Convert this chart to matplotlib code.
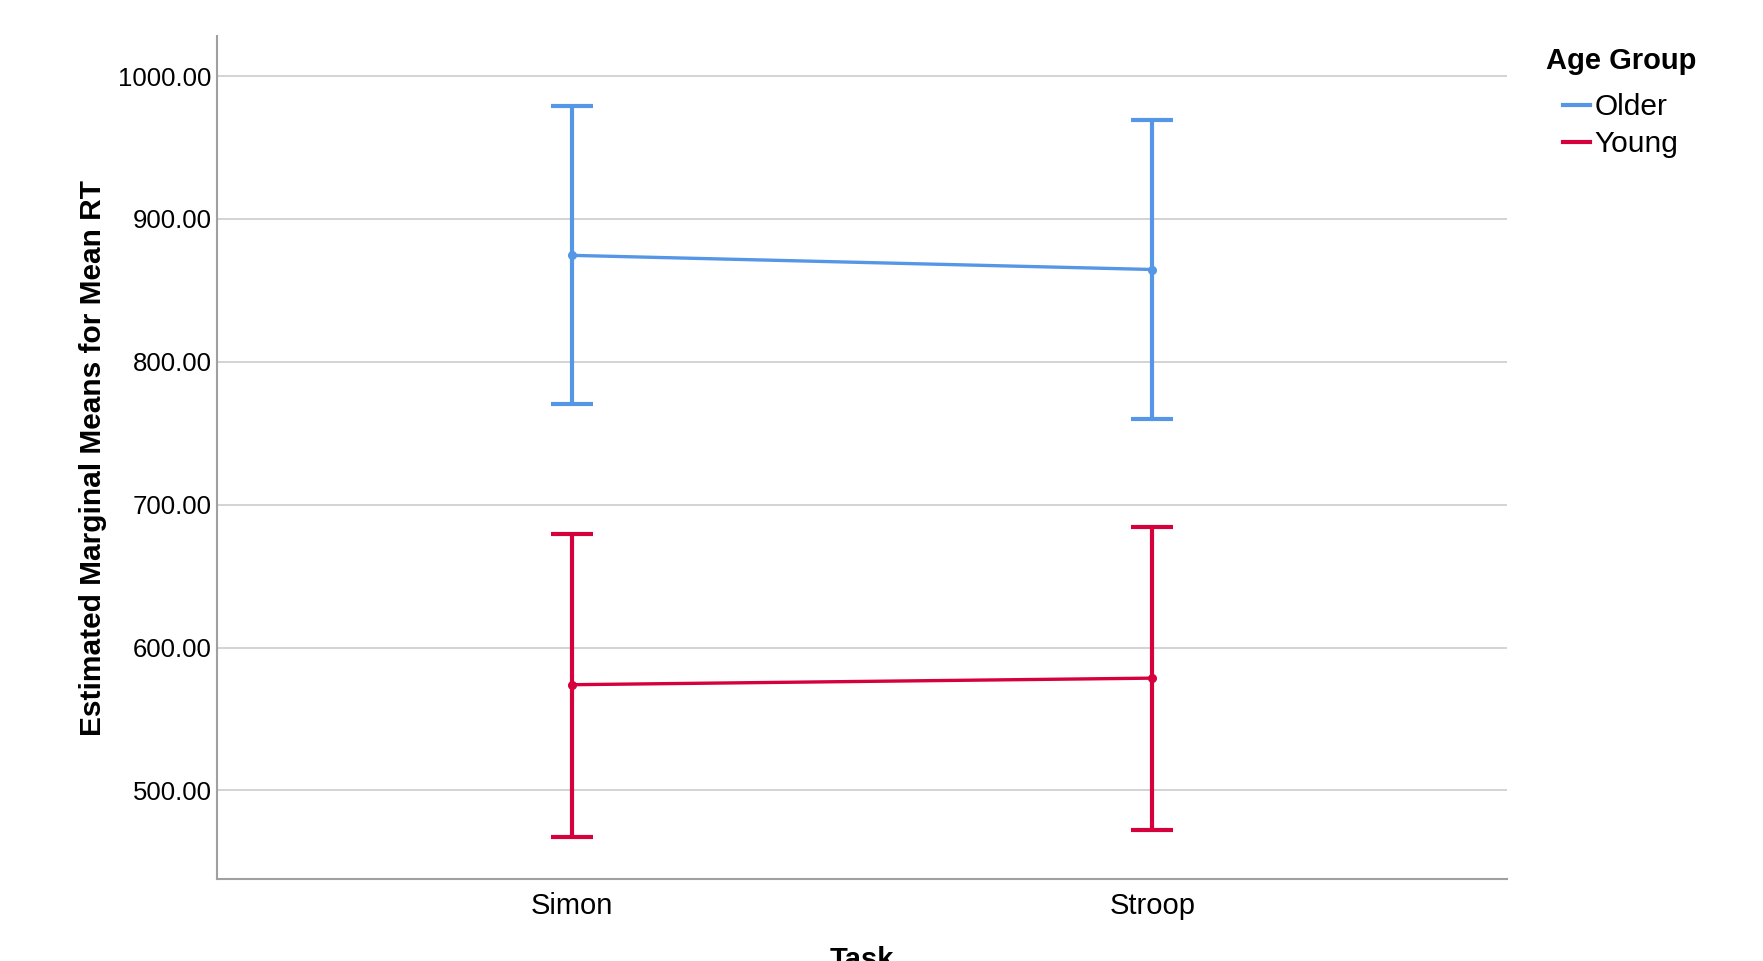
import matplotlib
matplotlib.use('Agg')
import matplotlib.pyplot as plt
from matplotlib.lines import Line2D

plt.rcParams['font.family'] = ['Liberation Sans', 'DejaVu Sans']

tasks = ['Simon', 'Stroop']
groups = ['Older', 'Young']
colors = {'Older': '#5597e6', 'Young': '#d5003c'}

# estimated marginal means with 95% CI bounds
means = {'Older': [874.5, 864.6], 'Young': [574.0, 578.6]}
lower = {'Older': [770.4, 759.9], 'Young': [467.7, 472.3]}
upper = {'Older': [978.8, 969.3], 'Young': [679.6, 684.7]}

yticks = [500, 600, 700, 800, 900, 1000]

fig = plt.figure(figsize=(17.63, 9.61), dpi=100)
ax = fig.add_axes([0.1231, 0.0853, 0.7317, 0.8772])

x = list(range(len(tasks)))
for g in groups:
    m = means[g]
    err = [[m[i] - lower[g][i] for i in x], [upper[g][i] - m[i] for i in x]]
    ax.errorbar(x, m, yerr=err, color=colors[g], lw=2.4, elinewidth=3,
                capsize=15, capthick=3, marker='o', markersize=5.5,
                zorder=3)

ax.set_xlim(-0.612, 1.611)
ax.set_ylim(438, 1028)
ax.set_xticks(x)
ax.set_xticklabels(tasks, fontsize=21)
ax.set_yticks(yticks)
ax.set_yticklabels(['%.2f' % v for v in yticks], fontsize=18.5)
ax.tick_params(axis='y', length=0, pad=4)
ax.tick_params(axis='x', length=0, pad=9)
ax.grid(axis='y', color='#d0d0d0', lw=1.3, zorder=0)
for s in ['top', 'right']:
    ax.spines[s].set_visible(False)
for s in ['left', 'bottom']:
    ax.spines[s].set_color('#a0a0a0')
    ax.spines[s].set_linewidth(1.5)

ax.set_ylabel('Estimated Marginal Means for Mean RT', fontsize=21.5,
              fontweight='bold', labelpad=8)
ax.set_xlabel('Task', fontsize=21, fontweight='bold', labelpad=19)

# legend: title as separate text, entries indented under it
fig.text(0.877, 0.937, 'Age Group', fontsize=21, fontweight='bold',
         ha='left', va='center')
handles = [Line2D([], [], color=colors[g], lw=3) for g in groups]
leg = ax.legend(handles, groups, loc='upper left',
                bbox_to_anchor=(0.8865, 0.903), bbox_transform=fig.transFigure,
                frameon=False, fontsize=21.5, handlelength=0.9,
                handletextpad=0.15, labelspacing=0.3, borderaxespad=0,
                borderpad=0)

fig.savefig('out.png', dpi=100)
